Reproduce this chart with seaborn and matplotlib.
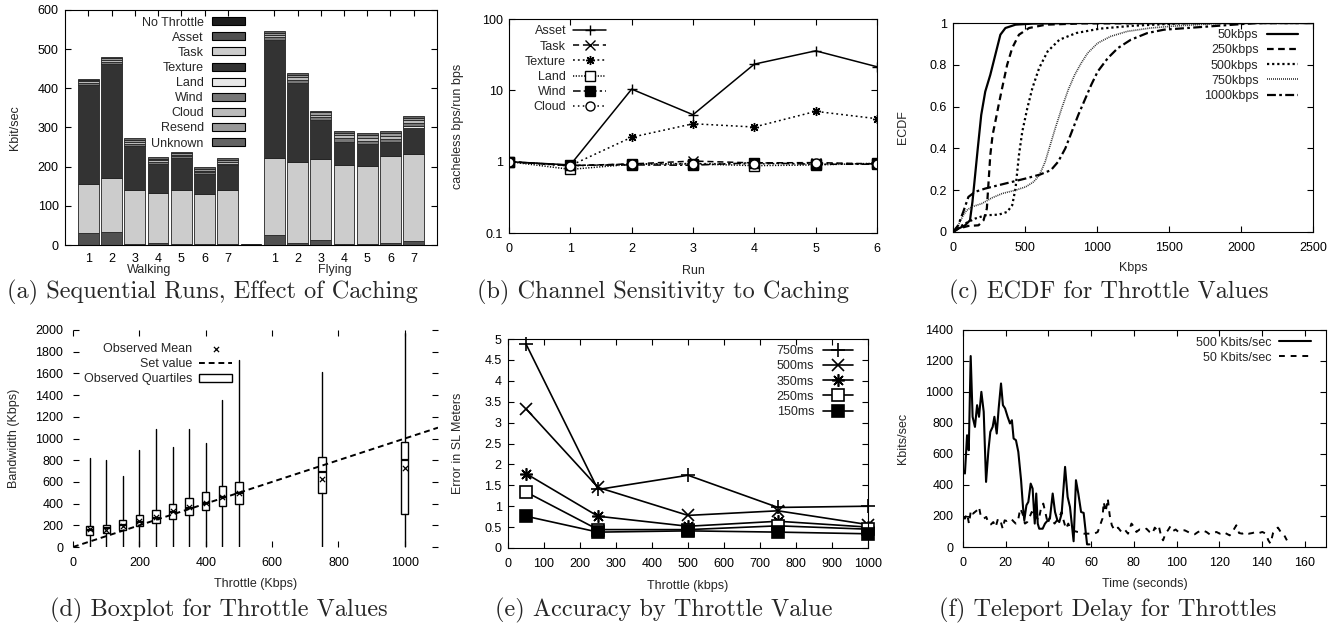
import numpy as np
import matplotlib
matplotlib.use("Agg")
import matplotlib.pyplot as plt
import seaborn as sns
from matplotlib.patches import Patch
from matplotlib.ticker import NullLocator

# ---------------- (a) Sequential runs ----------------
run_labels = ["1", "2", "3", "4", "5", "6", "7"]
group_labels = ["Walking", "Flying"]
layer_names = ["Asset", "Task", "Texture", "Land", "Wind", "Cloud", "Resend", "Unknown"]
walk_asset = [30, 32, 3, 6, 2, 2, 2]
walk_task = [127, 138, 137, 126, 138, 128, 138]
walk_texture = [251, 292, 113, 73, 80, 50, 62]
walk_land = [1, 1, 1, 1, 1, 1, 1]
walk_wind = [5, 5, 5, 5, 5, 5, 5]
walk_cloud = [4, 5, 5, 5, 4, 4, 5]
walk_resend = [4, 4, 4, 4, 4, 4, 4]
walk_unknown = [3, 4, 4, 4, 3, 4, 4]
fly_asset = [26, 6, 12, 3, 3, 4, 9]
fly_task = [197, 205, 208, 200, 198, 223, 223]
fly_texture = [299, 201, 96, 59, 55, 33, 68]
fly_land = [2, 2, 3, 2, 2, 2, 3]
fly_wind = [7, 8, 8, 9, 8, 9, 8]
fly_cloud = [6, 7, 6, 8, 8, 8, 7]
fly_resend = [5, 6, 6, 6, 6, 6, 6]
fly_unknown = [4, 4, 4, 5, 5, 5, 5]
no_throttle = [2]

# ---------------- (b) Channel sensitivity ----------------
runs_b = [0, 1, 2, 3, 4, 5, 6]
asset_b = [1.0, 0.90, 10.4, 4.55, 23.3, 35.8, 21.4]
task_b = [1.0, 0.88, 0.93, 1.02, 0.96, 0.97, 0.93]
texture_b = [1.0, 0.88, 2.2, 3.4, 3.06, 5.07, 4.0]
land_b = [1.0, 0.78, 0.92, 0.93, 0.88, 0.90, 0.95]
wind_b = [1.0, 0.89, 0.90, 0.89, 0.97, 0.92, 0.92]
cloud_b = [1.0, 0.87, 0.93, 0.94, 0.93, 0.95, 0.93]

# ---------------- (c) ECDF ----------------
ecdf50_x = [0, 37, 84, 118, 135, 149, 172, 196, 224, 259, 294, 329, 364, 434, 551, 903, 2500]
ecdf50_y = [0, 0.016, 0.032, 0.056, 0.144, 0.24, 0.40, 0.56, 0.672, 0.752, 0.848, 0.944, 0.976, 0.992, 0.997, 1.0, 1.0]
ecdf250_x = [0, 36, 107, 177, 212, 235, 247, 259, 275, 294, 317, 341, 376, 411, 458, 528, 645, 903, 2500]
ecdf250_y = [0, 0.016, 0.029, 0.032, 0.056, 0.112, 0.24, 0.368, 0.464, 0.528, 0.608, 0.688, 0.80, 0.88, 0.944, 0.976, 0.992, 0.998, 1.0]
ecdf500_x = [0, 36, 83, 153, 224, 317, 376, 411, 434, 446, 458, 481, 516, 551, 598, 657, 739, 856, 1020, 1254, 1488, 1647, 2500]
ecdf500_y = [0, 0.02, 0.04, 0.064, 0.08, 0.083, 0.096, 0.128, 0.208, 0.288, 0.368, 0.48, 0.592, 0.688, 0.784, 0.864, 0.92, 0.952, 0.973, 0.987, 0.995, 1.0, 1.0]
ecdf750_x = [0, 36, 71, 95, 130, 200, 270, 341, 434, 505, 560, 600, 640, 675, 710, 755, 800, 845, 890, 935, 1005, 1095, 1210, 1371, 1512, 1879, 2500]
ecdf750_y = [0, 0.032, 0.08, 0.104, 0.12, 0.136, 0.163, 0.184, 0.20, 0.216, 0.24, 0.272, 0.336, 0.416, 0.496, 0.592, 0.68, 0.752, 0.808, 0.856, 0.904, 0.936, 0.96, 0.976, 0.984, 1.0, 1.0]
ecdf1000_x = [0, 36, 71, 107, 153, 224, 317, 411, 505, 605, 680, 730, 780, 825, 870, 915, 960, 1005, 1075, 1145, 1235, 1350, 1465, 2110, 2500]
ecdf1000_y = [0, 0.032, 0.096, 0.168, 0.192, 0.208, 0.224, 0.24, 0.256, 0.275, 0.296, 0.336, 0.40, 0.48, 0.56, 0.632, 0.704, 0.768, 0.832, 0.88, 0.92, 0.952, 0.968, 1.0, 1.0]

# ---------------- (d) Boxplot ----------------
throttle_d = [50, 100, 150, 200, 250, 300, 350, 400, 450, 500, 750, 1000]
q1_d = [114, 132, 154, 191, 222, 258, 298, 338, 375, 400, 498, 308]
med_d = [155, 175, 200, 235, 270, 320, 360, 410, 460, 500, 690, 800]
q3_d = [194, 206, 246, 298, 345, 400, 452, 508, 560, 600, 830, 972]
whislo_d = [0, 0, 0, 0, 0, 0, 0, 0, 0, 0, 0, 0]
whishi_d = [822, 806, 658, 898, 1086, 926, 1086, 954, 1354, 1723, 1609, 1975]
mean_d = [165, 160, 190, 240, 280, 330, 365, 410, 460, 495, 630, 730]
set_x = [0, 1100]
set_y = [0, 1100]

# ---------------- (e) Accuracy ----------------
throttle_e = [50, 250, 500, 750, 1000]
err_750 = [4.88, 1.40, 1.74, 0.97, 1.0]
err_500 = [3.33, 1.45, 0.78, 0.89, 0.56]
err_350 = [1.78, 0.76, 0.52, 0.64, 0.50]
err_250 = [1.34, 0.44, 0.44, 0.53, 0.45]
err_150 = [0.76, 0.38, 0.41, 0.38, 0.34]

# ---------------- (f) Teleport delay ----------------
t_500 = [0, 0.9, 1.9, 2.7, 3.6, 4.5, 5.6, 6.6, 7.5, 8.6, 9.7, 10.8, 11.9, 12.8, 13.9, 14.7, 15.8, 16.7,
         17.8, 18.7, 19.7, 20.9, 22.0, 22.9, 23.7, 24.8, 25.9, 27.2, 28.1, 28.7, 29.7, 30.6, 31.7, 32.6,
         33.6, 34.3, 35.0, 35.7, 37.3, 38.4, 39.7, 40.7, 42.0, 43.1, 44.2, 45.1, 46.2, 47.8, 49.0, 50.1,
         51.8, 52.9, 54.0, 55.3, 56.5, 58.1, 59.2]
v_500 = [495, 474, 721, 624, 1232, 840, 775, 915, 840, 1001, 872, 420, 624, 743, 775, 840, 732, 894,
         1055, 915, 894, 840, 797, 818, 700, 689, 614, 431, 258, 172, 269, 291, 409, 377,
         151, 345, 151, 118, 118, 151, 172, 183, 345, 226, 172, 161, 215, 517, 323, 258,
         37, 431, 345, 226, 220, 17, 17]
t_50 = [0, 0.9, 1.9, 2.8, 3.7, 4.7, 5.6, 6.6, 7.5, 8.4, 9.7, 10.9, 12.0, 13.1, 14.2, 15.3, 16.4, 17.5,
        18.6, 19.5, 20.4, 21.4, 22.5, 23.6, 24.7, 25.8, 26.8, 27.9, 29.0, 30.1, 31.2, 32.2, 33.3, 34.3,
        35.4, 36.5, 37.6, 38.7, 39.7, 40.7, 41.8, 42.9, 44.0, 45.1, 46.2, 47.1, 48.2, 49.3, 50.6, 52.1,
        53.7, 55.3, 56.8, 58.4, 59.9, 61.5, 63.1, 64.0, 65.3, 65.9, 66.8, 67.8, 68.7, 69.7, 71.0, 72.6,
        74.2, 75.7, 77.3, 78.9, 79.9, 81.2, 82.7, 84.3, 85.9, 87.4, 88.7, 89.8, 90.9, 91.8, 92.9, 93.7,
        94.9, 96.0, 97.1, 98.3, 99.6, 100.9, 102.3, 103.8, 105.4, 106.9, 108.5, 110.1, 112.1, 114.0,
        115.5, 117.1, 118.7, 120.2, 121.8, 123.4, 124.9, 126.4, 128.0, 129.3, 130.8, 132.4, 133.9,
        135.5, 137.1, 138.6, 140.2, 141.8, 143.0, 144.0, 145.2, 146.5, 147.5, 148.8, 150.2, 151.7]
v_50 = [194, 183, 215, 151, 237, 215, 226, 237, 258, 194, 183, 194, 151, 146, 161, 129, 183, 172,
        118, 172, 168, 177, 183, 166, 151, 172, 248, 215, 151, 161, 194, 226, 183, 194,
        172, 248, 280, 215, 151, 194, 172, 151, 172, 194, 226, 172, 118, 151, 108, 103,
        97, 93, 86, 86, 86, 86, 97, 133, 183, 290, 226, 312, 205, 140, 108, 125,
        97, 113, 86, 151, 133, 97, 113, 108, 118, 97, 86, 125, 108, 129, 64, 43,
        90, 108, 133, 103, 113, 97, 103, 108, 97, 86, 82, 97, 108, 97,
        82, 90, 97, 86, 97, 86, 75, 103, 140, 90, 86, 97, 86,
        90, 97, 90, 97, 86, 43, 22, 90, 118, 125, 97, 82, 43]

# ---------------- style ----------------
sns.set_style("ticks")
plt.rcParams["font.family"] = ["Liberation Sans", "DejaVu Sans"]
plt.rcParams["font.size"] = 9
plt.rcParams["axes.linewidth"] = 0.8

W, H = 1340, 629
fig = plt.figure(figsize=(W / 100, H / 100), dpi=100)


def box(l, t, r, b):
    return [l / W, 1 - b / H, (r - l) / W, (b - t) / H]


def style_ax(ax, xpad=7, ypad=4.5):
    ax.tick_params(axis="both", which="both", direction="in", top=True, right=True,
                   length=4, width=0.8, color="black", labelsize=9, labelcolor="black")
    ax.tick_params(axis="x", pad=xpad)
    ax.tick_params(axis="y", pad=ypad)
    for s in ax.spines.values():
        s.set_color("black")
        s.set_linewidth(0.8)


def legend(ax, handles, labels, anchor, hl=2.6, htp=0.6):
    ax.legend(handles, labels, loc="upper right", bbox_to_anchor=anchor, frameon=False,
              markerfirst=False, borderaxespad=0, borderpad=0, labelspacing=0.25,
              handlelength=hl, handletextpad=htp, fontsize=9, handleheight=0.6)


def caption(x, y, s):
    fig.text(x / W, 1 - y / H, s, ha="center", va="center", fontsize=17.5, family="cmr10")


# ================= (a) =================
ax = fig.add_axes(box(65, 10, 437, 245))
colors = {"No Throttle": "#1c1c1c", "Asset": "#505050", "Task": "#cccccc", "Texture": "#333333",
          "Land": "#e8e8e8", "Wind": "#777777", "Cloud": "#bbbbbb", "Resend": "#999999",
          "Unknown": "#636363"}
walk = [walk_asset, walk_task, walk_texture, walk_land, walk_wind, walk_cloud, walk_resend, walk_unknown]
fly = [fly_asset, fly_task, fly_texture, fly_land, fly_wind, fly_cloud, fly_resend, fly_unknown]
pos_w = np.arange(len(run_labels))
pos_f = np.arange(len(run_labels)) + len(run_labels) + 1
for pos, layers in ((pos_w, walk), (pos_f, fly)):
    bottom = np.zeros(len(pos))
    for name, vals in zip(layer_names, layers):
        ax.bar(pos, vals, bottom=bottom, width=0.9, color=colors[name], edgecolor="#222222", linewidth=0.6)
        bottom += np.array(vals)
ax.bar([len(run_labels)], no_throttle, width=0.9, color=colors["No Throttle"], edgecolor="#111111", linewidth=0.6)
ax.set_xlim(-1, 2 * len(run_labels) + 1)
ax.set_ylim(0, 600)
ax.set_yticks(range(0, 601, 100))
ax.set_xticks(list(pos_w) + list(pos_f))
ax.set_xticklabels(run_labels + run_labels)
style_ax(ax, xpad=6)
ax.set_ylabel("Kbit/sec", fontsize=9)
ax.yaxis.set_label_coords(-0.118, 0.5)
ax.text(2.6, -0.105, group_labels[0], transform=ax.get_xaxis_transform(), ha="center", va="center", fontsize=9)
ax.text(10.6, -0.105, group_labels[1], transform=ax.get_xaxis_transform(), ha="center", va="center", fontsize=9)
leg_names = ["No Throttle"] + layer_names
hs = [Patch(facecolor=colors[n], edgecolor="black", linewidth=0.8) for n in leg_names]
legend(ax, hs, leg_names, (0.484, 0.972), hl=2.65, htp=0.65)

# ================= (b) =================
ax = fig.add_axes(box(509, 19, 877, 233))
specs_b = [("Asset", asset_b, "-", "+", "k"), ("Task", task_b, (0, (4, 2.5)), "x", "k"),
           ("Texture", texture_b, (0, (1.2, 2)), (8, 2, 0), "k"), ("Land", land_b, (0, (0.8, 1)), "s", "white"),
           ("Wind", wind_b, (0, (5, 2, 1.5, 2)), "s", "k"), ("Cloud", cloud_b, (0, (1, 2.2)), "o", "white")]
for name, vals, ls, mk, fc in specs_b:
    ms = 7 if mk == "s" else 6.5
    sns.lineplot(x=runs_b, y=vals, ax=ax, color="black", linestyle=ls, lw=1.1, marker=mk,
                 markersize=ms, markerfacecolor=fc, markeredgecolor="black", markeredgewidth=1.0,
                 label=name, sort=False)
ax.set_yscale("log")
ax.set_ylim(0.1, 100)
ax.set_xlim(0, 6)
ax.set_yticks([0.1, 1, 10, 100])
ax.set_yticklabels(["0.1", "1", "10", "100"])
ax.yaxis.set_minor_locator(NullLocator())
ax.set_xticks(runs_b)
style_ax(ax)
ax.set_xlabel("Run", fontsize=9)
ax.set_ylabel("cacheless bps/run bps", fontsize=9)
ax.yaxis.set_label_coords(-0.122, 0.5)
ax.xaxis.set_label_coords(0.5, -0.15)
h, l = ax.get_legend_handles_labels()
legend(ax, h, l, (0.264, 0.97), hl=2.65, htp=0.55)

# ================= (c) =================
ax = fig.add_axes(box(953, 23, 1313, 232))
specs_c = [("50kbps", ecdf50_x, ecdf50_y, "-", 1.6, "black"),
           ("250kbps", ecdf250_x, ecdf250_y, (0, (3, 2)), 1.6, "black"),
           ("500kbps", ecdf500_x, ecdf500_y, (0, (1, 1.3)), 1.6, "black"),
           ("750kbps", ecdf750_x, ecdf750_y, (0, (0.6, 0.6)), 1.2, "#333333"),
           ("1000kbps", ecdf1000_x, ecdf1000_y, (0, (4, 1.5, 1.2, 1.5)), 1.6, "black")]
for name, xs, ys, ls, lw, c in specs_c:
    sns.lineplot(x=xs, y=ys, ax=ax, color=c, linestyle=ls, lw=lw, label=name, sort=False)
ax.set_xlim(0, 2500)
ax.set_ylim(0, 1)
ax.set_xticks(range(0, 2501, 500))
ax.set_yticks([0, 0.2, 0.4, 0.6, 0.8, 1.0])
ax.set_yticklabels(["0", "0.2", "0.4", "0.6", "0.8", "1"])
style_ax(ax)
ax.set_xlabel("Kbps", fontsize=9)
ax.set_ylabel("ECDF", fontsize=9)
ax.yaxis.set_label_coords(-0.122, 0.5)
ax.xaxis.set_label_coords(0.5, -0.143)
h, l = ax.get_legend_handles_labels()
legend(ax, h, l, (0.958, 0.97), hl=2.5, htp=0.65)

# ================= (d) =================
ax = fig.add_axes(box(73, 330, 438, 547))
stats = [dict(med=m, q1=a, q3=b, whislo=lo, whishi=hi, mean=mu)
         for m, a, b, lo, hi, mu in zip(med_d, q1_d, q3_d, whislo_d, whishi_d, mean_d)]
ax.bxp(stats, positions=throttle_d, widths=22, showcaps=False, showfliers=False, showmeans=False,
       patch_artist=True, manage_ticks=False,
       boxprops=dict(facecolor="white", edgecolor="black", linewidth=1.0),
       whiskerprops=dict(color="black", linewidth=1.0),
       medianprops=dict(color="black", linewidth=1.6))
sns.lineplot(x=set_x, y=set_y, ax=ax, color="black", linestyle=(0, (3, 2)), lw=1.4, label="Set value")
sns.scatterplot(x=throttle_d, y=mean_d, ax=ax, marker="x", color="black", s=14, linewidth=0.9,
                label="Observed Mean", zorder=5)
ax.set_xlim(0, 1100)
ax.set_ylim(0, 2000)
ax.set_xticks(range(0, 1001, 200))
ax.set_yticks(range(0, 2001, 200))
style_ax(ax, xpad=7, ypad=7)
for s in ax.spines.values():
    s.set_visible(False)
ax.set_xlabel("Throttle (Kbps)", fontsize=9)
ax.set_ylabel("Bandwidth (Kbps)", fontsize=9)
ax.yaxis.set_label_coords(-0.145, 0.5)
ax.xaxis.set_label_coords(0.5, -0.143)
h, l = ax.get_legend_handles_labels()
hd = dict(zip(l, h))
qpatch = Patch(facecolor="white", edgecolor="black", linewidth=1.0)
legend(ax, [hd["Observed Mean"], hd["Set value"], qpatch],
       ["Observed Mean", "Set value", "Observed Quartiles"], (0.436, 0.94), hl=2.65, htp=0.55)

# ================= (e) =================
ax = fig.add_axes(box(508, 339, 868, 548))
specs_e = [("750ms", err_750, "+", "black", 10), ("500ms", err_500, "x", "black", 9),
           ("350ms", err_350, (8, 2, 0), "black", 9), ("250ms", err_250, "s", "white", 8),
           ("150ms", err_150, "s", "black", 8)]
for name, vals, mk, fc, ms in specs_e:
    sns.lineplot(x=throttle_e, y=vals, ax=ax, color="black", lw=1.2, marker=mk, markersize=ms,
                 markerfacecolor=fc, markeredgecolor="black", markeredgewidth=1.2, label=name, sort=False)
ax.set_xlim(0, 1000)
ax.set_ylim(0, 5)
ax.set_xticks(range(0, 1001, 100))
ax.set_yticks(np.arange(0, 5.01, 0.5))
ax.set_yticklabels(["0", "0.5", "1", "1.5", "2", "2.5", "3", "3.5", "4", "4.5", "5"])
for line in ax.lines:
    line.set_clip_on(False)
style_ax(ax)
ax.set_xlabel("Throttle (kbps)", fontsize=9)
ax.set_ylabel("Error in SL Meters", fontsize=9)
ax.yaxis.set_label_coords(-0.122, 0.5)
ax.xaxis.set_label_coords(0.5, -0.153)
h, l = ax.get_legend_handles_labels()
legend(ax, h, l, (0.958, 0.97), hl=2.4, htp=0.7)

# ================= (f) =================
ax = fig.add_axes(box(963, 330, 1326, 547))
sns.lineplot(x=t_500, y=v_500, ax=ax, color="black", lw=1.5, label="500 Kbits/sec", sort=False)
sns.lineplot(x=t_50, y=v_50, ax=ax, color="black", lw=1.4, linestyle=(0, (3, 3)), label="50 Kbits/sec", sort=False)
ax.set_xlim(0, 170)
ax.set_ylim(0, 1400)
ax.set_xticks(range(0, 161, 20))
ax.set_yticks(range(0, 1401, 200))
style_ax(ax, xpad=7, ypad=7)
ax.set_xlabel("Time (seconds)", fontsize=9)
ax.set_ylabel("Kbits/sec", fontsize=9)
ax.yaxis.set_label_coords(-0.149, 0.5)
ax.xaxis.set_label_coords(0.5, -0.143)
h, l = ax.get_legend_handles_labels()
legend(ax, h, l, (0.960, 0.97), hl=2.6, htp=0.6)

# ================= captions =================
caption(212, 292, "(a) Sequential Runs, Effect of Caching")
caption(663, 292, "(b) Channel Sensitivity to Caching")
caption(1109, 292, "(c) ECDF for Throttle Values")
caption(219, 610, "(d) Boxplot for Throttle Values")
caption(664, 610, "(e) Accuracy by Throttle Value")
caption(1108, 610, "(f) Teleport Delay for Throttles")

fig.savefig("out.png", dpi=100)
